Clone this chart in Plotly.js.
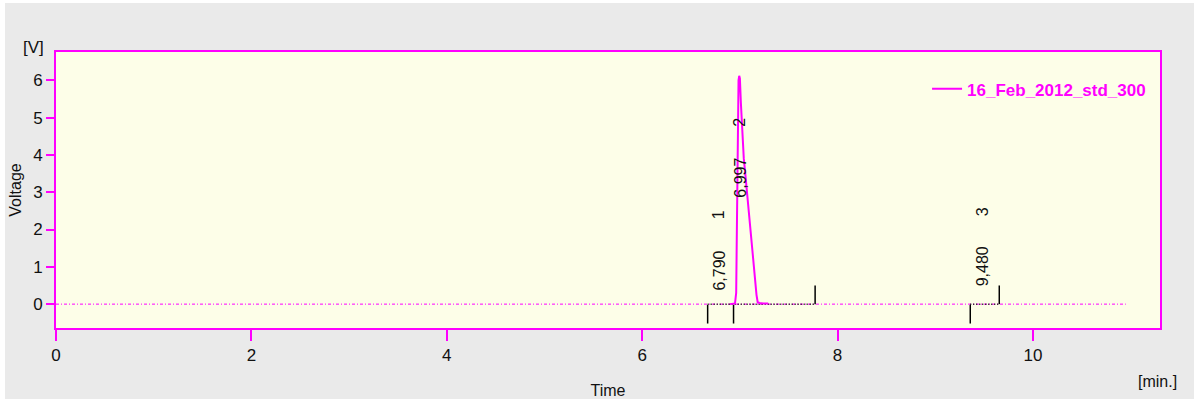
<!DOCTYPE html>
<html>
<head>
<meta charset="utf-8">
<script src="https://cdn.plot.ly/plotly-3.0.1.min.js"></script>
<style>
html,body{margin:0;padding:0;background:#ffffff;}
#chart{position:absolute;left:5px;top:3px;width:1189px;height:396px;}
</style>
</head>
<body>
<div id="chart"></div>
<script>
// ---- data ----
var seriesName = "16_Feb_2012_std_300";
var signalTime    = [6.90, 6.950, 6.962, 6.970, 6.978, 6.986, 6.993, 7.000, 7.010, 7.025, 7.040, 7.055, 7.070, 7.085, 7.100, 7.115, 7.130, 7.150, 7.170, 7.182, 7.200, 7.240, 7.290];
var signalVoltage = [0.00, 0.02, 0.30, 2.20, 4.80, 6.00, 6.12, 6.05, 5.40, 4.50, 3.90, 3.50, 3.05, 2.75, 2.30, 1.85, 1.40, 0.80, 0.25, 0.05, 0.03, 0.02, 0.02];
var baselineTime  = [0, 10.95];
var baselineVolt  = [0, 0];
var peakNumbers   = [1, 2, 3];
var peakTimes     = [6.790, 6.997, 9.480];
var peakLabels    = ["6,790", "6,997", "9,480"];
var integStarts   = [6.670, 6.935, 9.358];
var integEnds     = [6.935, 7.770, 9.655];
var xTicks = [0, 2, 4, 6, 8, 10];
var yTicks = [0, 1, 2, 3, 4, 5, 6];

// ---- layout helpers (positions only) ----
var labelTimeY = [0.91, 3.38, 1.02];
var labelNumY  = [2.39, 4.88, 2.47];
var MAG = "#ff00ff";

// integration markers
var downX = [], downY = [], upX = [], upY = [];
var segX = [], segY = [];
for (var i = 0; i < integStarts.length; i++) {
  downX.push(integStarts[i], integStarts[i], null);
  downY.push(-0.02, -0.52, null);
}
for (var j = 0; j < integEnds.length; j++) {
  if (integStarts.indexOf(integEnds[j]) === -1) {
    upX.push(integEnds[j], integEnds[j], null);
    upY.push(0, 0.50, null);
  }
}
var segs = [];
for (var k = 0; k < integStarts.length; k++) {
  if (segs.length && Math.abs(segs[segs.length-1][1] - integStarts[k]) < 1e-9) {
    segs[segs.length-1][1] = integEnds[k];
  } else segs.push([integStarts[k], integEnds[k]]);
}
segs.forEach(function(s){ segX.push(s[0], s[1], null); segY.push(0, 0, null); });

var traces = [
  {x: baselineTime, y: baselineVolt, mode: "lines", showlegend: false, hoverinfo: "skip",
   line: {color: MAG, width: 1, dash: "3px,2px,1px,2px"}},
  {x: segX, y: segY, mode: "lines", showlegend: false, hoverinfo: "skip",
   line: {color: "#000000", width: 1.5, dash: "1px,2px"}},
  {x: downX, y: downY, mode: "lines", showlegend: false, hoverinfo: "skip",
   line: {color: "#000000", width: 1.5}},
  {x: upX, y: upY, mode: "lines", showlegend: false, hoverinfo: "skip",
   line: {color: "#000000", width: 1.5}},
  {x: signalTime, y: signalVoltage, mode: "lines", name: seriesName,
   line: {color: MAG, width: 2}}
];

var FONT = "Liberation Sans, Arial, sans-serif";
var annotations = [];
for (var p = 0; p < peakTimes.length; p++) {
  annotations.push({x: peakTimes[p], y: labelTimeY[p], xref: "x", yref: "y", text: peakLabels[p],
    textangle: -90, showarrow: false, font: {family: FONT, size: 16, color: "#111"}});
  annotations.push({x: peakTimes[p], y: labelNumY[p], xref: "x", yref: "y", text: String(peakNumbers[p]),
    textangle: -90, showarrow: false, font: {family: FONT, size: 16, color: "#111"}});
}
annotations.push({xref: "paper", yref: "paper", x: -0.009, y: 1.0145, xanchor: "right", yanchor: "middle",
  text: "[V]", showarrow: false, font: {family: FONT, size: 17, color: "#111"}});
annotations.push({xref: "paper", yref: "paper", x: 0.998, y: -0.155, xanchor: "center", yanchor: "top",
  text: "[min.]", showarrow: false, font: {family: FONT, size: 16, color: "#111"}});

var layout = {
  width: 1189, height: 396,
  margin: {l: 51, r: 34, t: 49, b: 71},
  paper_bgcolor: "#eaeaea",
  plot_bgcolor: "#fdfee8",
  showlegend: true,
  legend: {x: 0.789, y: 0.93, xanchor: "left", yanchor: "top", bgcolor: "rgba(0,0,0,0)",
    font: {family: FONT, size: 17, color: MAG, weight: "bold"}},
  xaxis: {range: [0, 11.30], tickvals: xTicks, ticktext: xTicks.map(String),
    showgrid: false, zeroline: false, showline: true, linecolor: MAG, linewidth: 2, mirror: true,
    ticks: "outside", ticklen: 11, tickwidth: 2, tickcolor: MAG,
    tickfont: {family: FONT, size: 17, color: "#111"},
    title: {text: "Time", font: {family: FONT, size: 16, color: "#111"}, standoff: 22}},
  yaxis: {range: [-0.64, 6.76], tickvals: yTicks, ticktext: yTicks.map(String),
    showgrid: false, zeroline: false, showline: true, linecolor: MAG, linewidth: 2, mirror: true,
    ticks: "outside", ticklen: 8, tickwidth: 2, tickcolor: MAG,
    tickfont: {family: FONT, size: 17, color: "#111"},
    title: {text: "Voltage", font: {family: FONT, size: 16, color: "#111"}, standoff: 8}},
  annotations: annotations
};

Plotly.newPlot("chart", traces, layout, {displayModeBar: false, staticPlot: true});
</script>
</body>
</html>
